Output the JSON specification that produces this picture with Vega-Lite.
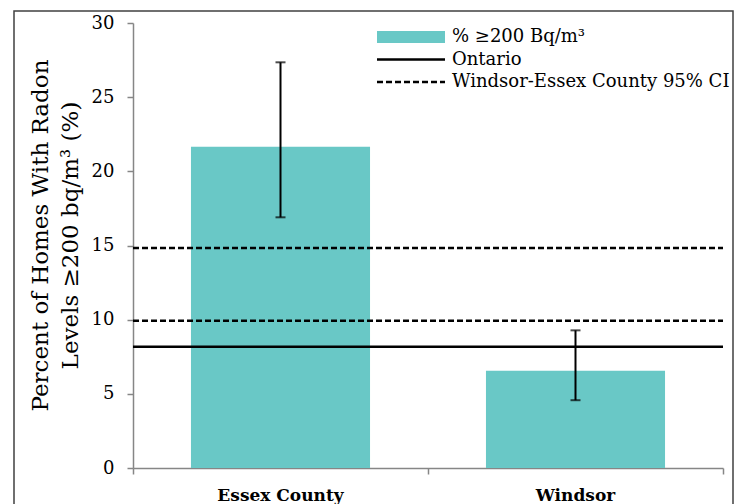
{
  "$schema": "https://vega.github.io/schema/vega-lite/v6.json",
  "width": 719,
  "height": 500,
  "autosize": {"type": "none"},
  "padding": {"left": 14, "top": 11, "right": 8, "bottom": 0},
  "background": "white",
  "config": {
    "view": {"stroke": "#404040", "strokeWidth": 1.5},
    "font": "DejaVu Serif",
    "axis": {"grid": false}
  },
  "datasets": {
    "bars": [
      {"area": "Essex County", "pct": 21.65, "lo": 16.9, "hi": 27.35},
      {"area": "Windsor", "pct": 6.55, "lo": 4.57, "hi": 9.28}
    ],
    "lines": [
      {"series": "Ontario", "value": 8.18},
      {"series": "Windsor-Essex County 95% CI", "value": 9.93},
      {"series": "Windsor-Essex County 95% CI", "value": 14.83}
    ]
  },
  "layer": [
    {
      "data": {"name": "bars"},
      "mark": {"type": "bar", "color": "#69c8c6", "width": {"band": 0.607}},
      "encoding": {
        "x": {
          "field": "area", "type": "nominal",
          "scale": {"domain": ["Essex County", "Windsor"], "range": [119, 709], "paddingInner": 0, "paddingOuter": 0},
          "axis": {"orient": "bottom", "offset": -43, "title": null, "ticks": false, "labelAngle": 0,
                   "labelFontSize": 17, "labelFontWeight": "bold", "labelColor": "#000", "labelPadding": 19,
                   "domainColor": "#868686", "domainWidth": 1.5}
        },
        "y": {
          "field": "pct", "type": "quantitative",
          "scale": {"domain": [0, 30], "range": [457, 12], "nice": false},
          "axis": {"orient": "left", "offset": -119, "values": [0, 5, 10, 15, 20, 25, 30],
                   "tickSize": 6, "tickColor": "#868686", "tickWidth": 1.5,
                   "domainColor": "#868686", "domainWidth": 1.5,
                   "labelFontSize": 18, "labelColor": "#000", "labelPadding": 13,
                   "title": ["Percent of Homes With Radon", "Levels ≥200 bq/m³  (%)"],
                   "titleFontSize": 23, "titleFontWeight": "normal", "titleColor": "#000",
                   "titleLineHeight": 30, "titleAngle": -90, "titleX": -104, "titleY": 224,
                   "titleAlign": "center", "titleBaseline": "top"}
        }
      }
    },
    {
      "data": {"name": "bars"},
      "mark": {"type": "rule", "color": "#000", "strokeWidth": 2},
      "encoding": {
        "x": {"field": "area", "type": "nominal",
              "axis": {"orient": "bottom", "offset": -43, "bandPosition": 0, "labels": false, "domain": false,
                       "ticks": true, "tickSize": 6, "tickColor": "#868686", "tickWidth": 1.5, "title": null}},
        "y": {"field": "lo", "type": "quantitative"},
        "y2": {"field": "hi"}
      }
    },
    {
      "data": {"name": "bars"},
      "mark": {"type": "tick", "orient": "horizontal", "color": "#000", "size": 10, "thickness": 2},
      "encoding": {
        "x": {"field": "area", "type": "nominal",
              "axis": {"orient": "bottom", "offset": -43, "bandPosition": 1, "values": ["Windsor"], "labels": false,
                       "domain": false, "ticks": true, "tickSize": 6, "tickColor": "#868686", "tickWidth": 1.5, "title": null}},
        "y": {"field": "lo", "type": "quantitative"}
      }
    },
    {
      "data": {"name": "bars"},
      "mark": {"type": "tick", "orient": "horizontal", "color": "#000", "size": 10, "thickness": 2},
      "encoding": {
        "x": {"field": "area", "type": "nominal", "axis": null},
        "y": {"field": "hi", "type": "quantitative"}
      }
    },
    {
      "data": {"name": "lines"},
      "mark": {"type": "rule"},
      "encoding": {
        "x": {"datum": "Essex County", "type": "nominal", "bandPosition": 0, "axis": null},
        "x2": {"datum": "Windsor", "bandPosition": 1},
        "y": {"field": "value", "type": "quantitative"},
        "color": {
          "field": "series", "type": "nominal",
          "scale": {"domain": ["% ≥200 Bq/m³", "Ontario", "Windsor-Essex County 95% CI"], "range": ["#69c8c6", "#000000", "#000000"]},
          "legend": {"orient": "none", "legendX": 357, "legendY": 15, "title": null, "symbolType": "stroke",
                     "symbolSize": 4624, "clipHeight": 22, "rowPadding": 0.5, "labelFontSize": 18,
                     "labelOffset": 1, "labelColor": "#000", "padding": 0, "labelLimit": 0}
        },
        "strokeDash": {
          "field": "series", "type": "nominal",
          "scale": {"domain": ["% ≥200 Bq/m³", "Ontario", "Windsor-Essex County 95% CI"], "range": [[1, 0], [1, 0], [6, 3]]}
        },
        "strokeWidth": {
          "field": "series", "type": "nominal",
          "scale": {"type": "ordinal", "domain": ["% ≥200 Bq/m³", "Ontario", "Windsor-Essex County 95% CI"], "range": [12, 2.5, 2.5]}
        }
      }
    }
  ],
  "resolve": {"axis": {"x": "independent"}}
}
